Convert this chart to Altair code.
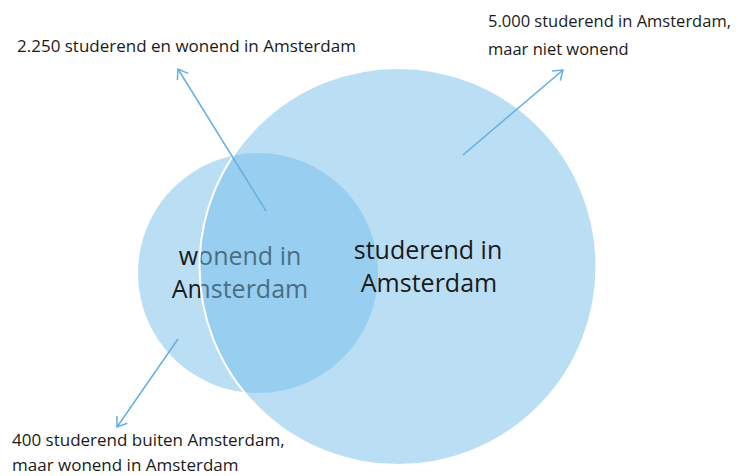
import altair as alt
import numpy as np
import pandas as pd

# Venn sets: counts (circle areas proportional to counts)
set_names = ["wonend in Amsterdam", "studerend in Amsterdam"]
set_counts = [2650, 7250]          # 400 + 2250, 2250 + 5000
set_cx = [258, 398]
set_cy = [273, 266.5]

# labels inside circles (one row per line)
inner_set = ["wonend", "wonend", "studerend", "studerend"]
inner_text = ["wonend in", "Amsterdam", "studerend in", "Amsterdam"]
inner_x = [240, 240, 428, 429]
inner_y = [265, 298, 259, 292]

# annotations
note_group = ["left", "right", "right", "left", "left"]
note_text = ["2.250 studerend  en wonend  in Amsterdam",
             "5.000 studerend  in Amsterdam,", "maar niet wonend",
             "400 studerend buiten  Amsterdam,", "maar wonend in Amsterdam"]
note_x = [17, 488, 488, 12, 12]
note_y = [52, 27, 55, 446, 470.5]

# arrows (start -> tip)
arrow_x1 = [266, 463, 178]
arrow_y1 = [211, 155, 339]
arrow_x2 = [178, 563, 117]
arrow_y2 = [69, 70, 427]

W, H = 723, 468
xs = alt.Scale(domain=[8, 8 + W])
ys = alt.Scale(domain=[8, 8 + H], reverse=True)
size_scale = alt.Scale(type="linear", domain=[0, 7250], range=[0, 397 ** 2])

FILL = "#75BDE9"
ARROW = "#62AFE3"

sets = pd.DataFrame({"name": set_names, "count": set_counts, "cx": set_cx, "cy": set_cy})
small = sets.iloc[[0]]
big = sets.iloc[[1]]

inner = pd.DataFrame({"set": inner_set, "text": inner_text, "x": inner_x, "y": inner_y})
notes = pd.DataFrame({"group": note_group, "text": note_text, "x": note_x, "y": note_y})
arrows = pd.DataFrame({"x1": arrow_x1, "y1": arrow_y1, "x2": arrow_x2, "y2": arrow_y2})
arrows["angle"] = np.mod(np.degrees(np.arctan2(arrows.x2 - arrows.x1,
                                               -(arrows.y2 - arrows.y1))), 360)

def circle(df, stroke):
    kw = dict(shape="circle", filled=True, fill=FILL, fillOpacity=0.5)
    if stroke:
        kw.update(stroke="white", strokeWidth=2, strokeOpacity=1)
    else:
        kw.update(strokeWidth=0)
    return alt.Chart(df).mark_point(**kw).encode(
        x=alt.X("cx:Q", scale=xs, axis=None),
        y=alt.Y("cy:Q", scale=ys, axis=None),
        size=alt.Size("count:Q", scale=size_scale, legend=None),
    )

def inner_labels(which):
    return alt.Chart(inner[inner.set == which]).mark_text(
        font="Open Sans", fontSize=25, color="#1a1a1a", align="center",
        baseline="alphabetic").encode(
        x=alt.X("x:Q", scale=xs, axis=None),
        y=alt.Y("y:Q", scale=ys, axis=None),
        text="text:N")

rules = alt.Chart(arrows).mark_rule(color=ARROW, strokeWidth=1.5).encode(
    x=alt.X("x1:Q", scale=xs, axis=None),
    y=alt.Y("y1:Q", scale=ys, axis=None),
    x2="x2:Q", y2="y2:Q")

heads = alt.Chart(arrows).mark_point(
    shape="M-0.7,1L0,0L0.7,1", filled=False, stroke=ARROW, strokeWidth=1.5,
    size=324, opacity=1).encode(
    x=alt.X("x2:Q", scale=xs, axis=None),
    y=alt.Y("y2:Q", scale=ys, axis=None),
    angle=alt.Angle("angle:Q", scale=None))

def note_layer(group, fs):
    return alt.Chart(notes[notes.group == group]).mark_text(
        font="Open Sans", fontSize=fs, color="#1a1a1a", align="left",
        baseline="alphabetic").encode(
        x=alt.X("x:Q", scale=xs, axis=None),
        y=alt.Y("y:Q", scale=ys, axis=None),
        text="text:N")

chart = alt.layer(
    circle(small, False),
    inner_labels("wonend"),
    circle(big, True),
    inner_labels("studerend"),
    rules, heads,
    note_layer("left", 17),
    note_layer("right", 16.5),
).properties(
    width=W, height=H, padding=0,
    autosize=alt.AutoSizeParams(type="none"),
).configure_view(stroke=None)

chart.save("out.html", embed_options={"renderer": "svg", "actions": False})
